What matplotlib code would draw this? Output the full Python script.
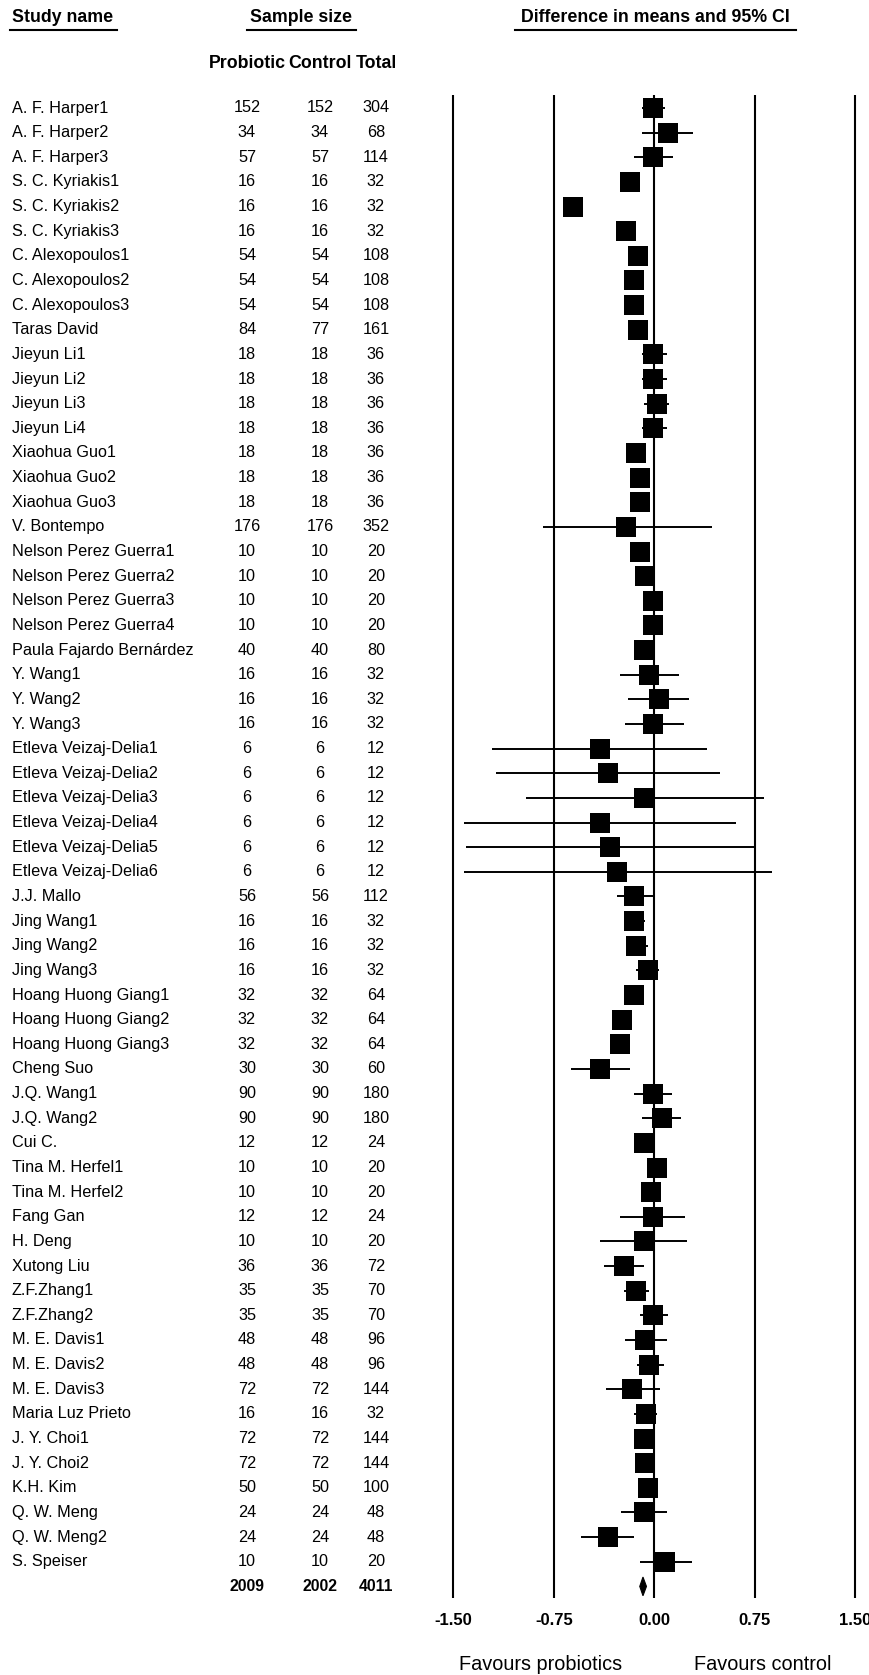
import matplotlib
matplotlib.use("Agg")
import matplotlib.pyplot as plt
from matplotlib.lines import Line2D
from matplotlib.patches import Polygon
from matplotlib.transforms import blended_transform_factory

plt.rcParams['font.family'] = ['Liberation Sans', 'DejaVu Sans']

# ---- data -------------------------------------------------------------
studies = [
    "A. F. Harper1", "A. F. Harper2", "A. F. Harper3",
    "S. C. Kyriakis1", "S. C. Kyriakis2", "S. C. Kyriakis3",
    "C. Alexopoulos1", "C. Alexopoulos2", "C. Alexopoulos3",
    "Taras David",
    "Jieyun Li1", "Jieyun Li2", "Jieyun Li3", "Jieyun Li4",
    "Xiaohua Guo1", "Xiaohua Guo2", "Xiaohua Guo3",
    "V. Bontempo",
    "Nelson Perez Guerra1", "Nelson Perez Guerra2",
    "Nelson Perez Guerra3", "Nelson Perez Guerra4",
    "Paula Fajardo Bernárdez",
    "Y. Wang1", "Y. Wang2", "Y. Wang3",
    "Etleva Veizaj-Delia1", "Etleva Veizaj-Delia2", "Etleva Veizaj-Delia3",
    "Etleva Veizaj-Delia4", "Etleva Veizaj-Delia5", "Etleva Veizaj-Delia6",
    "J.J. Mallo",
    "Jing Wang1", "Jing Wang2", "Jing Wang3",
    "Hoang Huong Giang1", "Hoang Huong Giang2", "Hoang Huong Giang3",
    "Cheng Suo",
    "J.Q. Wang1", "J.Q. Wang2",
    "Cui C.",
    "Tina M. Herfel1", "Tina M. Herfel2",
    "Fang Gan", "H. Deng", "Xutong Liu",
    "Z.F.Zhang1", "Z.F.Zhang2",
    "M. E. Davis1", "M. E. Davis2", "M. E. Davis3",
    "Maria Luz Prieto",
    "J. Y. Choi1", "J. Y. Choi2",
    "K.H. Kim",
    "Q. W. Meng", "Q. W. Meng2",
    "S. Speiser",
]

n_probiotic = [152, 34, 57, 16, 16, 16, 54, 54, 54, 84, 18, 18, 18, 18,
               18, 18, 18, 176, 10, 10, 10, 10, 40, 16, 16, 16, 6, 6, 6, 6,
               6, 6, 56, 16, 16, 16, 32, 32, 32, 30, 90, 90, 12, 10, 10, 12,
               10, 36, 35, 35, 48, 48, 72, 16, 72, 72, 50, 24, 24, 10]
n_control = [152, 34, 57, 16, 16, 16, 54, 54, 54, 77, 18, 18, 18, 18,
             18, 18, 18, 176, 10, 10, 10, 10, 40, 16, 16, 16, 6, 6, 6, 6,
             6, 6, 56, 16, 16, 16, 32, 32, 32, 30, 90, 90, 12, 10, 10, 12,
             10, 36, 35, 35, 48, 48, 72, 16, 72, 72, 50, 24, 24, 10]
n_total = [304, 68, 114, 32, 32, 32, 108, 108, 108, 161, 36, 36, 36, 36,
           36, 36, 36, 352, 20, 20, 20, 20, 80, 32, 32, 32, 12, 12, 12, 12,
           12, 12, 112, 32, 32, 32, 64, 64, 64, 60, 180, 180, 24, 20, 20, 24,
           20, 72, 70, 70, 96, 96, 144, 32, 144, 144, 100, 48, 48, 20]

mean_diff = [-0.01, 0.10, -0.01, -0.18, -0.61, -0.21, -0.12, -0.15, -0.15,
             -0.12, -0.01, -0.01, 0.015, -0.01, -0.14, -0.11, -0.11, -0.21,
             -0.11, -0.07, -0.01, -0.01, -0.08, -0.04, 0.03, -0.01, -0.41,
             -0.35, -0.075, -0.41, -0.335, -0.28, -0.15, -0.155, -0.135,
             -0.05, -0.15, -0.24, -0.26, -0.41, -0.01, 0.055, -0.075, 0.02,
             -0.025, -0.01, -0.075, -0.225, -0.14, -0.01, -0.07, -0.04,
             -0.17, -0.065, -0.075, -0.07, -0.05, -0.075, -0.35, 0.08]
ci_low = [-0.09, -0.09, -0.15, -0.23, -0.66, -0.26, -0.17, -0.20, -0.20,
          -0.17, -0.09, -0.09, -0.08, -0.09, -0.19, -0.16, -0.16, -0.83,
          -0.16, -0.12, -0.06, -0.06, -0.13, -0.26, -0.20, -0.22, -1.21,
          -1.185, -0.96, -1.42, -1.41, -1.42, -0.28, -0.23, -0.20, -0.14,
          -0.20, -0.29, -0.31, -0.62, -0.15, -0.09, -0.125, -0.03, -0.075,
          -0.26, -0.41, -0.375, -0.23, -0.105, -0.22, -0.13, -0.36, -0.15,
          -0.125, -0.12, -0.10, -0.25, -0.55, -0.105]
ci_high = [0.08, 0.29, 0.14, -0.13, -0.56, -0.16, -0.07, -0.10, -0.10,
           -0.07, 0.09, 0.09, 0.11, 0.09, -0.09, -0.06, -0.06, 0.43,
           -0.06, -0.02, 0.04, 0.04, -0.03, 0.18, 0.255, 0.22, 0.395,
           0.49, 0.82, 0.61, 0.75, 0.875, -0.01, -0.07, -0.05, 0.03,
           -0.10, -0.19, -0.21, -0.18, 0.13, 0.20, -0.025, 0.07, 0.025,
           0.23, 0.24, -0.075, -0.04, 0.10, 0.09, 0.07, 0.04, 0.02,
           -0.025, -0.02, 0.00, 0.09, -0.155, 0.28]

total_probiotic, total_control, total_all = 2009, 2002, 4011
pooled_mean, pooled_low, pooled_high = -0.086, -0.11, -0.06

x_ticks = [-1.50, -0.75, 0.00, 0.75, 1.50]

# ---- layout (pixels) --------------------------------------------------
W, H = 870, 1675
fig = plt.figure(figsize=(W / 100, H / 100), dpi=100)

zero_px, px_per_unit = 654.5, 134.0
xlim = (-1.6, 1.55)
left_px = zero_px + xlim[0] * px_per_unit
right_px = zero_px + xlim[1] * px_per_unit
top_px, bottom_px = 95.0, 1598.0
first_row_px, row_h = 108.0, 24.64

ax = fig.add_axes([left_px / W, 1 - bottom_px / H,
                   (right_px - left_px) / W, (bottom_px - top_px) / H])
ax.set_xlim(*xlim)
ax.set_ylim((bottom_px - first_row_px) / row_h, (top_px - first_row_px) / row_h)
for s in ax.spines.values():
    s.set_visible(False)
ax.set_yticks([])
ax.set_xticks(x_ticks)
ax.set_xticklabels([f"{t:.2f}" for t in x_ticks], fontsize=12, fontweight='bold')
ax.tick_params(axis='x', length=0, pad=11)

rows = list(range(len(studies)))
summary_row = len(studies)

# reference lines
for t in x_ticks:
    ax.axvline(t, color='black', lw=1.5, zorder=1)

# confidence intervals and point estimates
ax.hlines(rows, ci_low, ci_high, color='black', lw=1.4, zorder=2)
ax.plot(mean_diff, rows, linestyle='none', marker='s', ms=14.2,
        mec='black', mew=0, color='black', zorder=3)

# pooled estimate diamond
h = 0.38
ax.add_patch(Polygon([(pooled_low, summary_row), (pooled_mean, summary_row - h),
                      (pooled_high, summary_row), (pooled_mean, summary_row + h)],
                     closed=True, facecolor='black', edgecolor='black', lw=0.8,
                     zorder=3))

# ---- text columns -----------------------------------------------------
tr = blended_transform_factory(fig.transFigure, ax.transData)
col_name, col_p, col_c, col_t = 12, 247, 320, 376
fs_row = 11.7
for i, name in enumerate(studies):
    ax.text(col_name / W, i, name, transform=tr, ha='left', va='center',
            fontsize=fs_row)
    ax.text(col_p / W, i, str(n_probiotic[i]), transform=tr, ha='center',
            va='center', fontsize=fs_row)
    ax.text(col_c / W, i, str(n_control[i]), transform=tr, ha='center',
            va='center', fontsize=fs_row)
    ax.text(col_t / W, i, str(n_total[i]), transform=tr, ha='center',
            va='center', fontsize=fs_row)

for x, v in [(col_p, total_probiotic), (col_c, total_control), (col_t, total_all)]:
    ax.text(x / W, summary_row, str(v), transform=tr, ha='center', va='center',
            fontsize=11.3, fontweight='bold')

# headers
def fy(y):
    return 1 - y / H

fs_head = 12.8
fig.text(12 / W, fy(18), "Study name", ha='left', va='center',
         fontsize=fs_head, fontweight='bold')
fig.text(301 / W, fy(18), "Sample size", ha='center', va='center',
         fontsize=fs_head, fontweight='bold')
fig.text(655 / W, fy(18), "Difference in means and 95% CI", ha='center',
         va='center', fontsize=fs_head, fontweight='bold')
for x0, x1 in [(10, 117), (247, 356), (515, 796)]:
    fig.add_artist(Line2D([x0 / W, x1 / W], [fy(29.5), fy(29.5)],
                          transform=fig.transFigure, color='black', lw=1.5))

for x, lab in [(col_p, "Probiotic"), (col_c, "Control"), (col_t, "Total")]:
    fig.text(x / W, fy(63), lab, ha='center', va='center',
             fontsize=fs_head, fontweight='bold')

fig.text(541 / W, fy(1664), "Favours probiotics", ha='center', va='center',
         fontsize=14.3)
fig.text(763 / W, fy(1664), "Favours control", ha='center', va='center',
         fontsize=14.3)

fig.savefig("out.png", dpi=100)
